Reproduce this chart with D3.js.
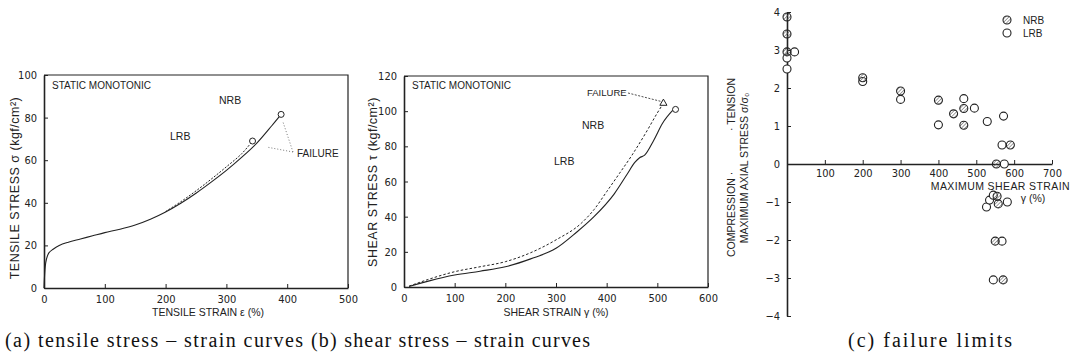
<!DOCTYPE html>
<html>
<head>
<meta charset="utf-8">
<script src="https://cdn.jsdelivr.net/npm/d3@7"></script>
<style>
  body { margin: 0; background: #fff; }
  svg { display: block; }
  .tick text { font-family: "Liberation Sans Narrow", "DejaVu Sans Condensed", sans-serif; font-size: 11px; fill: #222; }
  .lbl { font-family: "Liberation Sans", Arial, sans-serif; fill: #222; }
  .cap { font-family: "Liberation Serif", "DejaVu Serif", serif; font-size: 20px; fill: #111; }
</style>
</head>
<body>
<div id="chart"></div>
<script>
// (a) tensile stress - strain
const tensileStrainNRB = [0, 2, 4, 8, 15, 25, 40, 60, 80, 100, 125, 150, 175, 200, 225, 250, 275, 300, 325, 350, 375, 390];
const tensileStressNRB = [0, 10, 13.5, 16.5, 18.2, 20, 21.5, 23, 24.5, 26, 27.6, 29.6, 32.3, 35.7, 39.8, 44.5, 49.7, 55.2, 61.3, 68, 76.3, 81.5];
const tensileStrainLRB = [200, 225, 250, 275, 300, 325, 343];
const tensileStressLRB = [35.9, 40.5, 45.6, 51.1, 56.9, 63, 69];

// (b) shear stress - strain
const shearStrainNRB = [10, 50, 100, 150, 200, 250, 300, 340, 375, 415, 440, 456, 465, 475, 493, 510, 532];
const shearStressNRB = [0.3, 3.5, 6.8, 9, 11.5, 16, 22, 31, 40, 53, 64, 71, 73.5, 75, 83.5, 93, 101];
const shearStrainLRB = [10, 50, 100, 150, 200, 250, 300, 350, 375, 400, 425, 450, 480, 500, 512];
const shearStressLRB = [0.5, 4.5, 8.7, 11.5, 14.4, 19.5, 26.8, 36.3, 44, 54.2, 64.5, 75, 89, 99, 104.5];

// (c) failure limits
const limitStrainNRB = [0, 0, 0, 200, 300, 400, 440, 467, 467, 590, 553, 555, 558, 550, 571];
const limitStressNRB = [3.87, 3.42, 2.95, 2.27, 1.92, 1.68, 1.32, 1.46, 1.02, 0.5, 0, -0.85, -1.05, -2.03, -3.05];
const limitStrainLRB = [20, 0, 0, 200, 300, 400, 467, 495, 529, 572, 568, 574, 527, 535, 545, 582, 568, 545];
const limitStressLRB = [2.95, 2.79, 2.5, 2.17, 1.7, 1.03, 1.72, 1.47, 1.12, 1.26, 0.5, 0, -1.13, -0.95, -0.82, -1.0, -2.03, -3.05];

const captions = ["(a) tensile stress \u2013  strain curves", "(b) shear stress \u2013  strain curves", "(c) failure limits"];

const ink = "#222";
const svg = d3.select("#chart").append("svg").attr("width", 1071).attr("height", 360);

const defs = svg.append("defs");
const pat = defs.append("pattern").attr("id", "hatch").attr("patternUnits", "userSpaceOnUse")
  .attr("width", 2.5).attr("height", 2.5).attr("patternTransform", "rotate(45)");
pat.append("line").attr("x1", 0).attr("y1", 0).attr("x2", 0).attr("y2", 2.5).attr("stroke", "#555").attr("stroke-width", 1.1);

const zip = (xs, ys) => xs.map((x, i) => [x, ys[i]]);

function frame(g, x, y) {
  const [x0, x1] = x.range(), [y0, y1] = y.range();
  g.append("path").attr("d", `M${x0},${y1}H${x1}V${y0}`)
    .attr("fill", "none").attr("stroke", ink).attr("stroke-width", 1.2);
}

function axes(g, x, y, xt, yt) {
  g.append("g").attr("transform", `translate(0,${y.range()[0]})`)
    .call(d3.axisBottom(x).tickValues(xt).tickSizeInner(-4).tickSizeOuter(0).tickPadding(7).tickFormat(d3.format("d")))
    .call(s => s.select(".domain").attr("stroke", ink).attr("stroke-width", 1.6));
  g.append("g").attr("transform", `translate(${x.range()[0]},0)`)
    .call(d3.axisLeft(y).tickValues(yt).tickSizeInner(-4).tickSizeOuter(0).tickPadding(7).tickFormat(d3.format("d")))
    .call(s => s.select(".domain").attr("stroke", ink).attr("stroke-width", 1.6));
  g.selectAll(".tick line").attr("stroke", ink);
}

function label(g, txt, x, y, size, opts = {}) {
  const t = g.append("text").attr("class", "lbl").attr("x", x).attr("y", y)
    .attr("font-size", size).attr("text-anchor", opts.anchor || "start").text(txt);
  if (opts.rotate) t.attr("transform", `rotate(-90,${x},${y})`);
  if (opts.ls) t.attr("letter-spacing", opts.ls);
  return t;
}

const line = (x, y, c) => d3.line().x(d => x(d[0])).y(d => y(d[1])).curve(c || d3.curveMonotoneX);

// ---------- panel (a)
{
  const g = svg.append("g");
  const x = d3.scaleLinear().domain([0, 500]).range([44, 348]);
  const y = d3.scaleLinear().domain([0, 100]).range([288, 75]);
  frame(g, x, y);
  axes(g, x, y, [0, 100, 200, 300, 400, 500], [0, 20, 40, 60, 80, 100]);
  g.append("path").datum(zip(tensileStrainNRB, tensileStressNRB)).attr("d", line(x, y, d3.curveCatmullRom.alpha(0.5)))
    .attr("fill", "none").attr("stroke", ink).attr("stroke-width", 1.1);
  g.append("path").datum(zip(tensileStrainLRB, tensileStressLRB)).attr("d", line(x, y, d3.curveCatmullRom.alpha(0.5)))
    .attr("fill", "none").attr("stroke", ink).attr("stroke-width", 1).attr("stroke-dasharray", "2,1.5");
  const endN = [tensileStrainNRB.at(-1), tensileStressNRB.at(-1)];
  const endL = [tensileStrainLRB.at(-1), tensileStressLRB.at(-1)];
  [endN, endL].forEach(p => g.append("circle").attr("cx", x(p[0])).attr("cy", y(p[1])).attr("r", 3)
    .attr("fill", "#fff").attr("stroke", ink).attr("stroke-width", 1));
  // failure leaders
  const fx = 293, fy = 152;
  [[x(endN[0]) + 2, y(endN[1]) + 8], [x(endL[0]) + 14, y(endL[1]) + 6]].forEach(p =>
    g.append("line").attr("x1", fx).attr("y1", fy).attr("x2", p[0]).attr("y2", p[1])
      .attr("stroke", "#555").attr("stroke-width", 0.8).attr("stroke-dasharray", "1,2"));
  label(g, "FAILURE", 297, 157, 10);
  label(g, "NRB", 219, 104, 10.5);
  label(g, "LRB", 170, 140, 10.5);
  label(g, "STATIC MONOTONIC", 52, 89, 10);
  label(g, "TENSILE STRAIN \u03b5 (%)", 208, 316, 10.5, { anchor: "middle" });
  label(g, "TENSILE STRESS \u03c3 (kgf/cm\u00b2)", 19, 188, 12.5, { anchor: "middle", rotate: true, ls: 0.5 });
}

// ---------- panel (b)
{
  const g = svg.append("g");
  const x = d3.scaleLinear().domain([0, 600]).range([404, 708]);
  const y = d3.scaleLinear().domain([0, 120]).range([287, 76]);
  frame(g, x, y);
  axes(g, x, y, [0, 100, 200, 300, 400, 500, 600], [0, 20, 40, 60, 80, 100, 120]);
  g.append("path").datum(zip(shearStrainNRB, shearStressNRB)).attr("d", line(x, y))
    .attr("fill", "none").attr("stroke", ink).attr("stroke-width", 1.1);
  g.append("path").datum(zip(shearStrainLRB, shearStressLRB)).attr("d", line(x, y))
    .attr("fill", "none").attr("stroke", ink).attr("stroke-width", 1).attr("stroke-dasharray", "2.5,2");
  const endN = [shearStrainNRB.at(-1), shearStressNRB.at(-1)];
  const endL = [shearStrainLRB.at(-1), shearStressLRB.at(-1)];
  g.append("circle").attr("cx", x(endN[0]) + 2).attr("cy", y(endN[1])).attr("r", 3)
    .attr("fill", "#fff").attr("stroke", ink).attr("stroke-width", 1);
  g.append("path").attr("d", d3.symbol(d3.symbolTriangle, 22)())
    .attr("transform", `translate(${x(endL[0])},${y(endL[1])})`)
    .attr("fill", "#fff").attr("stroke", ink).attr("stroke-width", 1);
  g.append("line").attr("x1", 628).attr("y1", 93).attr("x2", x(endL[0]) - 3).attr("y2", y(endL[1]) - 2)
    .attr("stroke", ink).attr("stroke-width", 0.8).attr("stroke-dasharray", "2,1.5");
  label(g, "FAILURE", 587, 96, 9.5);
  label(g, "NRB", 582, 129, 10.5);
  label(g, "LRB", 554, 165, 10.5);
  label(g, "STATIC MONOTONIC", 412, 89, 10);
  label(g, "SHEAR STRAIN \u03b3 (%)", 556, 316, 10.5, { anchor: "middle" });
  label(g, "SHEAR STRESS \u03c4 (kgf/cm\u00b2)", 377, 182, 12.5, { anchor: "middle", rotate: true, ls: 0.5 });
}

// ---------- panel (c)
{
  const g = svg.append("g");
  const x = d3.scaleLinear().domain([0, 700]).range([787, 1052]);
  const y = d3.scaleLinear().domain([-4, 4]).range([316, 12]);
  g.append("g").attr("transform", `translate(0,${y(0)})`)
    .call(d3.axisBottom(x).tickValues([100, 200, 300, 400, 500, 600, 700]).tickSizeInner(-4).tickSizeOuter(0).tickPadding(5))
    .call(s => s.select(".domain").attr("stroke", ink).attr("stroke-width", 1.6));
  g.append("g").attr("transform", `translate(${x(0)},0)`)
    .call(d3.axisLeft(y).tickValues(d3.range(-4, 5)).tickSizeInner(-4).tickSizeOuter(0).tickPadding(7).tickFormat(d3.format("d")))
    .call(s => s.select(".domain").attr("stroke", ink).attr("stroke-width", 1.6));
  g.selectAll(".tick line").attr("stroke", ink);
  g.selectAll(".tick text").attr("font-size", 10.5);

  g.selectAll(".lrb").data(zip(limitStrainLRB, limitStressLRB)).join("circle").attr("class", "lrb")
    .attr("cx", d => x(d[0])).attr("cy", d => y(d[1])).attr("r", 4)
    .attr("fill", "#fff").attr("stroke", ink).attr("stroke-width", 1.1);
  g.selectAll(".nrb").data(zip(limitStrainNRB, limitStressNRB)).join("circle").attr("class", "nrb")
    .attr("cx", d => x(d[0])).attr("cy", d => y(d[1])).attr("r", 4)
    .attr("fill", "url(#hatch)").attr("stroke", ink).attr("stroke-width", 1.1);

  // legend
  g.append("circle").attr("cx", 1007).attr("cy", 20).attr("r", 4).attr("fill", "url(#hatch)").attr("stroke", ink).attr("stroke-width", 1.1);
  g.append("circle").attr("cx", 1007).attr("cy", 33).attr("r", 4).attr("fill", "#fff").attr("stroke", ink).attr("stroke-width", 1.1);
  label(g, "NRB", 1023, 24, 10);
  label(g, "LRB", 1023, 37, 10);

  label(g, "MAXIMUM SHEAR STRAIN", 1070, 190, 10.5, { anchor: "end", ls: 0.4 });
  label(g, "\u03b3 (%)", 1033, 202, 10.5, { anchor: "middle" });
  label(g, "MAXIMUM AXIAL STRESS \u03c3/\u03c3\u2080", 748, 168, 10.5, { anchor: "middle", rotate: true });
  label(g, "COMPRESSION \u00b7", 735, 257, 10.5, { rotate: true });
  label(g, "\u00b7 TENSION", 735, 78, 10.5, { anchor: "end", rotate: true });
}

// captions
const capX = [5, 311, 848], capW = [298, 279, 164];
captions.forEach((c, i) => svg.append("text").attr("class", "cap").attr("x", capX[i]).attr("y", 347)
  .attr("textLength", capW[i]).attr("lengthAdjust", "spacing").text(c));
</script>
</body>
</html>
